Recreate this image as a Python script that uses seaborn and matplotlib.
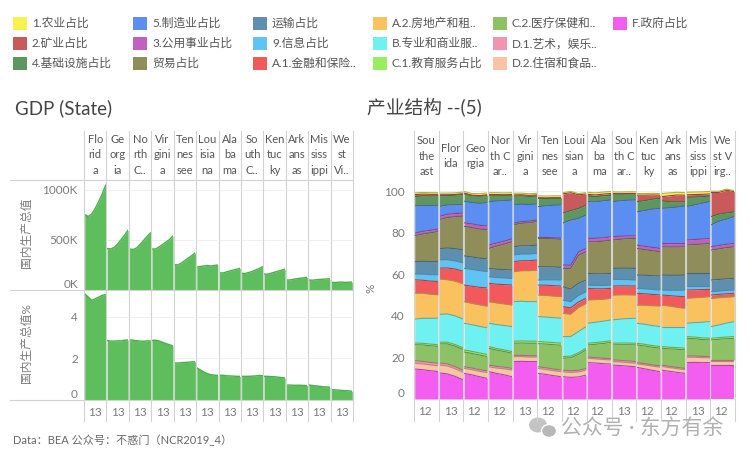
import numpy as np
import pandas as pd
import matplotlib
matplotlib.use("Agg")
import matplotlib.pyplot as plt
import matplotlib.colors as mcolors
from matplotlib.lines import Line2D
from matplotlib.patches import Rectangle, Ellipse
import seaborn as sns

sns.set_theme(style="white")
plt.rcParams["font.family"] = ["Lato", "Noto Sans CJK SC", "DejaVu Sans"]

# ---------------- data: left (GDP by state) ----------------
gdp_states = ["Florida", "Georgia", "North Carolina", "Virginia", "Tennessee", "Louisiana",
              "Alabama", "South Carolina", "Kentucky", "Arkansas", "Mississippi", "West Virginia"]
gdp_headers = ["Flo\nrid\na", "Ge\norg\nia", "No\nrth\nC..", "Vir\ngini\na", "Ten\nnes\nsee",
               "Lou\nisia\nna", "Ala\nba\nma", "So\nuth\nC..", "Ken\ntuc\nky", "Ark\nans\nas",
               "Mis\nsiss\nippi", "We\nst\nVi.."]
gdp_years = [2007, 2009, 2011, 2013, 2015, 2017, 2019]
gdp_k = [
    [755, 735, 760, 815, 885, 960, 1050],
    [415, 410, 425, 460, 505, 550, 600],
    [410, 405, 420, 455, 495, 535, 573],
    [410, 410, 430, 455, 480, 505, 540],
    [255, 250, 270, 295, 320, 345, 373],
    [228, 235, 240, 245, 240, 245, 250],
    [173, 170, 180, 190, 200, 208, 217],
    [167, 165, 175, 185, 200, 215, 233],
    [160, 158, 168, 178, 188, 198, 210],
    [100, 100, 108, 113, 118, 122, 127],
    [100, 98, 102, 105, 108, 110, 113],
    [77, 75, 78, 79, 76, 78, 80],
]
gdp_pct = [
    [5.12, 4.96, 4.80, 4.88, 4.96, 5.04, 5.08],
    [2.87, 2.84, 2.84, 2.85, 2.85, 2.88, 2.90],
    [2.90, 2.88, 2.86, 2.84, 2.83, 2.85, 2.84],
    [2.87, 2.88, 2.85, 2.78, 2.72, 2.66, 2.61],
    [1.79, 1.78, 1.80, 1.81, 1.82, 1.84, 1.85],
    [1.55, 1.45, 1.35, 1.27, 1.22, 1.20, 1.18],
    [1.20, 1.19, 1.17, 1.16, 1.15, 1.14, 1.14],
    [1.14, 1.14, 1.14, 1.15, 1.16, 1.18, 1.17],
    [1.14, 1.14, 1.13, 1.12, 1.10, 1.08, 1.06],
    [0.72, 0.72, 0.71, 0.71, 0.71, 0.70, 0.69],
    [0.72, 0.70, 0.68, 0.66, 0.64, 0.63, 0.61],
    [0.50, 0.49, 0.48, 0.46, 0.45, 0.44, 0.42],
]
gdp_xlabel = "13"
gdp_ticks_k = [0, 500, 1000]
gdp_ticklabels_k = ["0K", "500K", "1000K"]
gdp_ticks_pct = [0, 2, 4]
gdp_ticklabels_pct = ["0", "2", "4"]

# ---------------- data: right (industry structure) ----------------
sectors = ["1.农业占比", "2.矿业占比", "4.基础设施占比", "5.制造业占比", "3.公用事业占比",
           "贸易占比", "运输占比", "9.信息占比", "A.1.金融和保险..", "A.2.房地产和租..",
           "B.专业和商业服..", "C.1.教育服务占比", "C.2.医疗保健和..", "D.1.艺术，娱乐..",
           "D.2.住宿和食品..", "F.政府占比"]
sector_colors = ["#F8F24E", "#C95A5B", "#5E9660", "#5B8EF0", "#C060C0",
                 "#8F8E5B", "#5F8FAE", "#5FC3F4", "#F2595B", "#F9C25F",
                 "#70F1F1", "#98EE60", "#8DC165", "#F294B0", "#F9C3A6", "#F45EF0"]
region_headers = ["Sou\nthe\nast", "Flor\nida", "Geo\nrgia", "Nor\nth C\nar..", "Vir\ngini\na",
                  "Ten\nnes\nsee", "Loui\nsian\na", "Ala\nba\nma", "Sou\nth C\nar..",
                  "Ken\ntuc\nky", "Ark\nans\nas", "Mis\nsiss\nippi", "We\nst V\nirg.."]
region_years = [2007, 2011, 2015, 2019]
region_xlabels = ["12", "13", "12", "12", "13", "12", "12", "12", "13", "12", "12", "13", "12"]
region_xticks = [2012, 2013, 2012, 2012, 2013, 2012, 2012, 2012, 2013, 2012, 2012, 2013, 2012]

shares_southeast = [
    [0.8, 0.8, 0.8, 0.8], [0.9, 0.8, 0.8, 0.7], [4.5, 4.7, 4.6, 4.8], [13.2, 12.4, 11.9, 11.2],
    [1.2, 1.3, 1.2, 1.2], [12.4, 13.1, 13.8, 14.4], [6.0, 6.1, 6.3, 6.4], [2.8, 3.0, 3.1, 3.2],
    [6.4, 6.2, 6.3, 6.4], [12.5, 12.1, 11.6, 11.2], [11.5, 12.0, 12.4, 12.8], [0.8, 0.8, 0.8, 0.8],
    [7.7, 7.9, 8.0, 8.1], [1.2, 1.2, 1.2, 1.2], [2.8, 2.8, 2.8, 2.8], [14.4, 14.1, 13.6, 13.2]]
shares_florida = [
    [0.8, 0.8, 0.8, 0.8], [0.4, 0.4, 0.3, 0.3], [5.2, 4.5, 4.6, 5.0], [4.8, 4.5, 4.2, 4.0],
    [1.5, 1.6, 1.5, 1.5], [14.0, 14.6, 15.4, 16.2], [5.4, 5.6, 5.9, 6.2], [4.0, 4.0, 3.9, 4.0],
    [5.2, 5.6, 5.8, 6.0], [17.0, 16.5, 16.7, 17.0], [13.4, 13.6, 13.8, 13.8], [0.8, 0.8, 0.8, 0.8],
    [9.2, 9.6, 9.8, 10.0], [1.0, 1.0, 1.0, 1.0], [3.8, 3.8, 3.7, 3.6], [12.5, 12.1, 10.9, 9.3]]
shares_georgia = [
    [0.8, 0.8, 0.9, 0.9], [0.3, 0.3, 0.3, 0.3], [3.6, 3.3, 3.4, 3.5], [10.4, 10.2, 10.6, 11.2],
    [1.7, 1.8, 1.8, 1.8], [14.2, 14.1, 14.0, 14.0], [6.0, 6.0, 6.0, 6.1], [8.0, 8.1, 8.0, 7.9],
    [8.0, 8.2, 8.4, 8.8], [10.4, 10.3, 10.4, 10.4], [12.8, 12.8, 12.8, 12.8], [1.0, 1.0, 1.0, 1.0],
    [7.1, 7.0, 7.0, 6.9], [0.8, 0.8, 0.8, 0.8], [2.4, 2.5, 2.6, 2.8], [12.3, 11.6, 10.7, 9.9]]
shares_north_carolina = [
    [0.9, 0.9, 0.9, 0.9], [0.3, 0.3, 0.3, 0.3], [3.1, 2.8, 2.5, 2.3], [20.9, 20.2, 19.5, 18.7],
    [1.6, 1.5, 1.4, 1.4], [9.6, 11.1, 12.3, 13.6], [4.0, 4.0, 4.0, 4.0], [3.2, 3.2, 3.2, 3.2],
    [8.8, 9.0, 9.3, 9.6], [10.4, 10.4, 10.4, 10.4], [11.2, 11.5, 11.7, 12.0], [0.8, 0.8, 0.8, 0.8],
    [8.1, 7.8, 7.5, 7.3], [0.8, 0.8, 0.8, 0.8], [2.4, 2.6, 2.9, 3.2], [13.1, 12.3, 11.6, 10.7]]
shares_virginia = [
    [0.8, 0.8, 0.8, 0.8], [0.5, 0.5, 0.5, 0.5], [4.3, 4.0, 3.9, 3.8], [8.8, 8.4, 8.0, 7.7],
    [0.8, 0.8, 0.8, 0.8], [10.5, 10.8, 11.0, 11.3], [4.0, 4.0, 4.0, 4.0], [3.2, 3.2, 3.2, 3.2],
    [4.8, 4.8, 4.8, 4.8], [14.4, 14.7, 14.9, 15.2], [19.0, 19.1, 19.0, 19.0], [1.0, 1.0, 1.0, 1.0],
    [5.8, 5.9, 6.0, 6.0], [0.6, 0.6, 0.6, 0.6], [2.4, 2.3, 2.2, 2.2], [18.0, 18.1, 18.0, 18.0]]
shares_tennessee = [
    [0.9, 0.9, 0.9, 0.9], [0.3, 0.3, 0.3, 0.3], [4.0, 3.5, 3.3, 3.2], [14.8, 15.2, 15.7, 16.0],
    [0.5, 0.5, 0.5, 0.5], [13.6, 13.6, 13.5, 13.5], [6.4, 6.3, 6.2, 6.1], [2.4, 2.6, 2.8, 2.9],
    [4.8, 4.9, 5.0, 5.1], [10.4, 10.4, 10.4, 10.4], [12.0, 12.0, 12.0, 12.0], [1.0, 1.0, 1.0, 1.0],
    [11.1, 11.4, 11.7, 11.9], [0.8, 0.8, 0.8, 0.8], [2.4, 2.4, 2.4, 2.4], [12.3, 11.8, 11.2, 10.7]]
shares_louisiana = [
    [0.6, 0.6, 0.6, 0.6], [9.2, 8.6, 6.6, 5.3], [4.8, 4.6, 4.8, 4.8], [20.2, 21.7, 16.2, 16.1],
    [1.6, 1.6, 1.6, 1.6], [8.8, 9.9, 13.4, 13.6], [6.4, 6.0, 5.8, 5.6], [3.2, 3.0, 3.2, 3.2],
    [3.2, 3.0, 2.6, 2.4], [11.2, 10.8, 11.6, 11.2], [9.6, 9.4, 10.2, 10.4], [0.8, 0.8, 0.8, 0.8],
    [5.7, 6.2, 7.6, 8.9], [0.8, 0.8, 0.8, 0.8], [2.4, 2.4, 2.4, 2.4], [10.7, 10.4, 10.6, 11.5]]
shares_alabama = [
    [1.0, 1.0, 1.0, 1.0], [0.8, 0.8, 0.8, 0.8], [2.7, 2.5, 2.4, 2.3], [17.7, 17.5, 17.8, 17.7],
    [1.6, 1.7, 1.6, 1.6], [15.2, 15.4, 15.7, 16.0], [5.6, 5.6, 5.6, 5.6], [1.6, 1.6, 1.6, 1.6],
    [5.6, 5.2, 5.0, 4.8], [11.2, 10.9, 10.6, 10.4], [9.6, 9.8, 9.9, 10.0], [0.8, 0.8, 0.8, 0.8],
    [5.8, 6.4, 7.1, 7.8], [0.6, 0.6, 0.6, 0.6], [2.1, 2.0, 2.0, 2.0], [17.5, 17.3, 17.0, 16.8]]
shares_south_carolina = [
    [0.8, 0.8, 0.8, 0.8], [0.2, 0.2, 0.2, 0.2], [3.7, 3.2, 3.0, 2.9], [16.9, 17.0, 17.2, 17.3],
    [1.6, 1.5, 1.3, 1.2], [13.6, 13.9, 14.2, 14.4], [5.3, 5.4, 5.5, 5.6], [3.2, 3.1, 3.0, 2.9],
    [4.3, 4.3, 4.3, 4.3], [12.0, 11.7, 11.4, 11.2], [11.2, 11.5, 11.8, 12.0], [0.8, 0.8, 0.8, 0.8],
    [7.2, 7.5, 7.8, 8.0], [0.8, 0.8, 0.8, 0.8], [1.7, 1.7, 1.7, 1.7], [16.3, 16.1, 15.8, 15.5]]
shares_kentucky = [
    [0.8, 0.8, 0.8, 0.8], [3.1, 2.6, 2.0, 1.5], [4.9, 4.8, 4.8, 4.8], [16.0, 17.2, 18.4, 19.3],
    [1.6, 1.6, 1.6, 1.6], [12.8, 12.3, 12.0, 11.7], [6.4, 6.5, 6.6, 6.7], [2.4, 2.4, 2.4, 2.4],
    [5.6, 5.5, 5.4, 5.3], [8.8, 9.2, 9.6, 9.9], [9.6, 9.6, 9.6, 9.6], [0.8, 0.8, 0.8, 0.8],
    [8.5, 8.5, 8.5, 8.5], [0.6, 0.6, 0.6, 0.6], [1.7, 1.9, 2.0, 2.2], [15.2, 14.5, 13.8, 13.1]]
shares_arkansas = [
    [1.5, 1.4, 1.3, 1.2], [2.0, 2.8, 3.3, 3.1], [3.6, 3.0, 2.5, 2.1], [16.9, 17.2, 17.6, 18.0],
    [1.6, 1.6, 1.6, 1.6], [13.6, 13.6, 13.6, 13.6], [7.2, 7.2, 7.2, 7.2], [2.4, 2.6, 2.9, 3.2],
    [4.8, 5.0, 5.3, 5.6], [10.4, 9.9, 9.3, 8.8], [9.6, 9.9, 10.1, 10.4], [0.8, 0.8, 0.8, 0.8],
    [8.1, 8.4, 8.7, 8.9], [0.6, 0.6, 0.6, 0.6], [1.8, 1.8, 1.8, 1.8], [13.9, 13.3, 12.8, 12.3]]
shares_mississippi = [
    [1.2, 1.2, 1.2, 1.2], [1.2, 1.2, 1.1, 1.0], [4.5, 3.8, 3.2, 2.7], [16.1, 16.6, 17.2, 17.7],
    [2.4, 2.4, 2.4, 2.4], [13.6, 13.9, 14.1, 14.4], [6.1, 6.1, 6.1, 6.1], [1.9, 1.8, 1.7, 1.6],
    [4.0, 3.8, 3.7, 3.5], [12.0, 12.0, 12.0, 12.0], [6.4, 6.9, 7.5, 8.0], [0.8, 0.8, 0.8, 0.8],
    [8.5, 8.3, 8.1, 8.0], [0.6, 0.6, 0.6, 0.6], [2.6, 2.5, 2.4, 2.3], [17.5, 17.6, 17.5, 17.5]]
shares_west_virginia = [
    [0.6, 0.6, 0.5, 0.5], [11.6, 10.4, 10.9, 9.7], [4.0, 3.4, 3.0, 2.3], [10.5, 11.7, 12.1, 12.9],
    [1.6, 1.6, 1.6, 1.6], [14.4, 14.7, 15.0, 15.2], [5.6, 5.6, 5.6, 5.6], [1.6, 1.6, 1.6, 1.6],
    [1.6, 1.6, 1.6, 1.6], [13.6, 13.1, 12.5, 12.0], [5.6, 6.1, 6.7, 7.2], [0.8, 0.8, 0.8, 0.8],
    [9.6, 9.9, 10.2, 10.4], [0.6, 0.6, 0.6, 0.6], [1.9, 1.9, 1.9, 1.9], [16.3, 16.3, 16.3, 16.3]]
region_shares = [shares_southeast, shares_florida, shares_georgia, shares_north_carolina,
                 shares_virginia, shares_tennessee, shares_louisiana, shares_alabama,
                 shares_south_carolina, shares_kentucky, shares_arkansas, shares_mississippi,
                 shares_west_virginia]
pct_ticks = [0, 20, 40, 60, 80, 100]

# ---------------- figure helpers ----------------
W, H = 749, 457
fig = plt.figure(figsize=(W / 100, H / 100), dpi=100)
fig.patch.set_facecolor("white")


def fx(px):
    return px / W


def fy(py):
    return 1 - py / H


def add_ax(x0, y0, x1, y1):
    return fig.add_axes([x0 / W, 1 - y1 / H, (x1 - x0) / W, (y1 - y0) / H])


def darker(c, f=0.7):
    r, g, b = mcolors.to_rgb(c)
    return (r * f, g * f, b * f)


def vline(x, y0, y1, color="#d2d2d2", lw=0.8):
    fig.add_artist(Line2D([fx(x), fx(x)], [fy(y0), fy(y1)], color=color, lw=lw))


def hline(y, x0, x1, color="#d2d2d2", lw=0.8):
    fig.add_artist(Line2D([fx(x0), fx(x1)], [fy(y), fy(y)], color=color, lw=lw))


TICK_C = "#7a7a7a"
HEAD_C = "#555555"


def style_facet(ax, ylim, yticks, ylabels, show_y, ypad, xtick=None, xlab=None):
    ax.set_xlim(2007, 2019)
    ax.set_ylim(*ylim)
    ax.set_facecolor("none")
    for s in ax.spines.values():
        s.set_visible(False)
    ax.set_yticks(yticks)
    ax.set_yticklabels(ylabels if show_y else [""] * len(yticks))
    ax.yaxis.grid(True, color="#efefef", lw=0.7)
    ax.xaxis.grid(False)
    ax.set_axisbelow(True)
    ax.tick_params(axis="y", length=0, pad=ypad, labelsize=8.5, labelcolor=TICK_C)
    if xtick is None:
        ax.set_xticks([])
    else:
        ax.set_xticks([xtick])
        ax.set_xticklabels([xlab])
        ax.tick_params(axis="x", length=0, pad=5, labelsize=8.5, labelcolor=TICK_C)
    ax.set_xlabel("")
    ax.set_ylabel("")
    if show_y:
        ax.get_yticklabels()[0].set_va("bottom")


# ---------------- left chart ----------------
GREEN = "#5EBE5E"
GREEN_EDGE = "#4AAE4A"
LX0, LX1 = 84, 353
lw_ = (LX1 - LX0) / 12
for i, st in enumerate(gdp_states):
    x0 = LX0 + i * lw_ + 0.7
    x1 = LX0 + (i + 1) * lw_ - 0.7
    df_k = pd.DataFrame({"year": gdp_years, "value": gdp_k[i]})
    df_p = pd.DataFrame({"year": gdp_years, "value": gdp_pct[i]})

    ax1 = add_ax(x0, 180, x1, 290)
    ax1.fill_between(df_k["year"], 0, df_k["value"], color=GREEN, lw=0)
    sns.lineplot(data=df_k, x="year", y="value", ax=ax1, color=GREEN_EDGE, lw=1.0)
    style_facet(ax1, (0, 1100), gdp_ticks_k, gdp_ticklabels_k, i == 0, 5)

    ax2 = add_ax(x0, 290, x1, 400)
    ax2.fill_between(df_p["year"], 0, df_p["value"], color=GREEN, lw=0)
    sns.lineplot(data=df_p, x="year", y="value", ax=ax2, color=GREEN_EDGE, lw=1.0)
    style_facet(ax2, (0, 5.3), gdp_ticks_pct, gdp_ticklabels_pct, i == 0, 5,
                xtick=2013, xlab=gdp_xlabel)

    fig.text(fx((x0 + x1) / 2), fy(155), gdp_headers[i], ha="center", va="center",
             fontsize=8, color=HEAD_C, linespacing=1.55)

for k in range(13):
    vline(LX0 + k * lw_, 131, 421)
for yy in (180, 290, 400):
    hline(yy, 10, LX1)

fig.text(fx(15), fy(108), "GDP (State)", ha="left", va="center", fontsize=13.5, color="#444444")
fig.text(fx(26), fy(233), "国内生产总值", rotation=90, ha="center", va="center",
         fontsize=8.5, color=TICK_C)
fig.text(fx(26), fy(343), "国内生产总值%", rotation=90, ha="center", va="center",
         fontsize=8.5, color=TICK_C)

# ---------------- right chart ----------------
RX0, RX1 = 414, 735
rw_ = (RX1 - RX0) / 13
stack_order = list(range(len(sectors)))[::-1]   # bottom -> top
for i, shares in enumerate(region_shares):
    x0 = RX0 + i * rw_ + 0.7
    x1 = RX0 + (i + 1) * rw_ - 0.7
    ax = add_ax(x0, 180, x1, 399)
    df = pd.DataFrame({"year": np.repeat(region_years, len(sectors)),
                       "sector": sectors * len(region_years),
                       "share": [shares[s][t] for t in range(len(region_years))
                                 for s in range(len(sectors))]})
    wide = df.pivot(index="year", columns="sector", values="share")
    ys = [wide[sectors[s]].values for s in stack_order]
    ax.stackplot(wide.index.values, *ys, colors=[sector_colors[s] for s in stack_order], lw=0)
    cum = np.cumsum(np.vstack(ys), axis=0)
    for j, s in enumerate(stack_order):
        sns.lineplot(x=wide.index.values, y=cum[j], ax=ax, color=darker(sector_colors[s], 0.72),
                     lw=0.8)
    style_facet(ax, (0, 105.3), pct_ticks, [str(t) for t in pct_ticks], i == 0, 7,
                xtick=region_xticks[i], xlab=region_xlabels[i])
    fig.text(fx((x0 + x1) / 2), fy(156), region_headers[i], ha="center", va="center",
             fontsize=8, color=HEAD_C, linespacing=1.55)

for k in range(14):
    vline(RX0 + k * rw_, 131, 421)

fig.text(fx(367), fy(108), "产业结构 --(5)", ha="left", va="center", fontsize=13.5, color="#444444")
fig.text(fx(371), fy(288), "%", rotation=90, ha="center", va="center", fontsize=8.5, color=TICK_C)

# ---------------- legend ----------------
cols_x = [13, 133, 253, 373, 493, 613]
rows_y = [23.5, 43.5, 63.5]
for k, name in enumerate(sectors):
    c, r = divmod(k, 3)
    fig.add_artist(Rectangle((fx(cols_x[c]), fy(rows_y[r] + 6.5)), 14 / W, 13 / H,
                             transform=fig.transFigure, facecolor=sector_colors[k], lw=0))
    fig.text(fx(cols_x[c] + 19), fy(rows_y[r]), name, ha="left", va="center",
             fontsize=8.5, color=HEAD_C)

# ---------------- footer & watermark ----------------
fig.text(fx(13), fy(440), "Data：BEA 公众号：不惑门（NCR2019_4）", ha="left", va="center",
         fontsize=8, color="#666666")
fig.add_artist(Ellipse((fx(538), fy(425)), 18 / W, 15 / H, transform=fig.transFigure,
                       facecolor="#c4c4c4", lw=0))
fig.add_artist(Ellipse((fx(549), fy(431)), 15 / W, 13 / H, transform=fig.transFigure,
                       facecolor="#b8b8b8", edgecolor="white", lw=1))
fig.text(fx(561), fy(428), "公众号 · 东方有余", ha="left", va="center", fontsize=15,
         color="#b0b0b0")

fig.savefig("out.png", dpi=100, facecolor="white")
